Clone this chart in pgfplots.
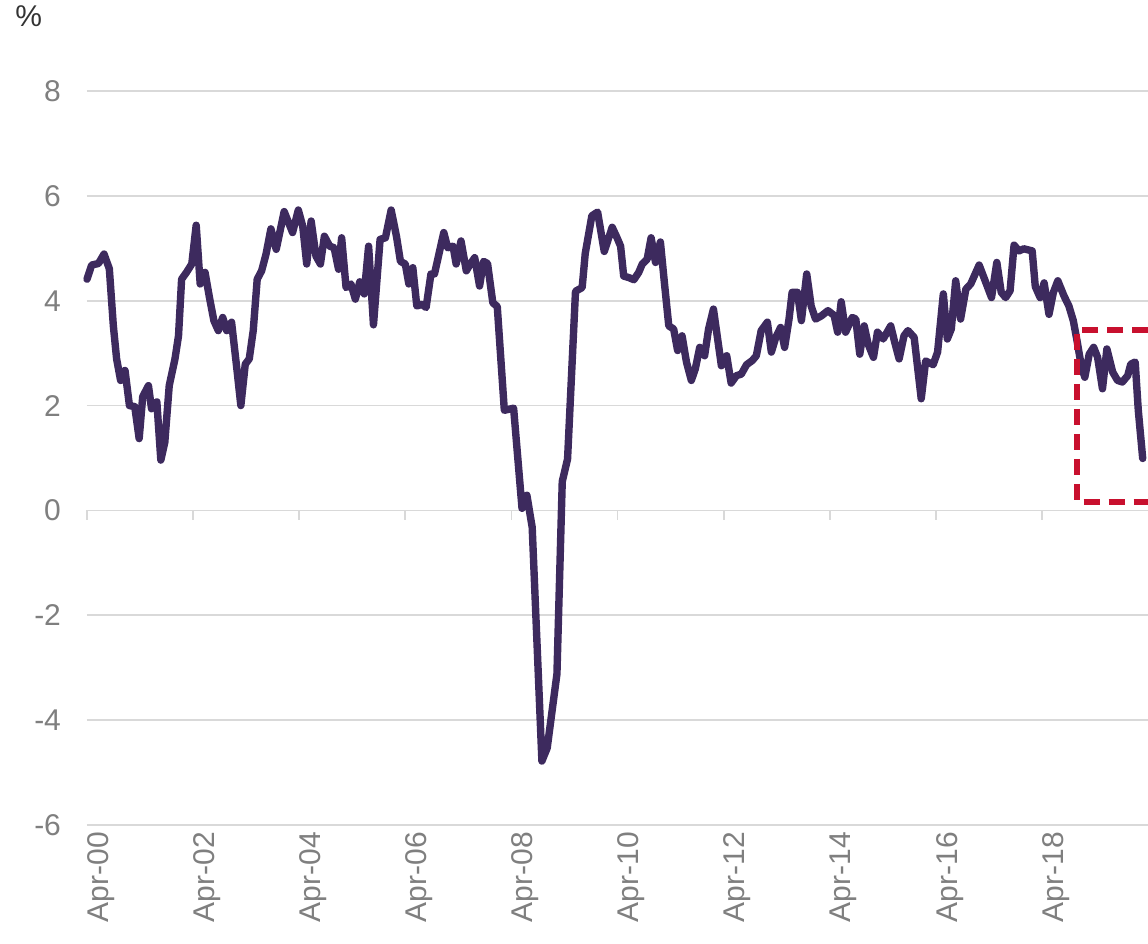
\documentclass[border=0pt]{standalone}
\usepackage{fontspec}
\setmainfont{Liberation Sans}
\usepackage{pgfplots}
\pgfplotsset{compat=1.18}
\definecolor{linec}{HTML}{3D2A5E}
\definecolor{redc}{HTML}{C8102E}
\definecolor{gridc}{HTML}{D9D9D9}
\definecolor{tickc}{HTML}{7F7F7F}
\begin{document}
\begin{tikzpicture}
\begin{axis}[
  scale only axis,
  width=530.5pt, height=367pt,
  xmin=0, xmax=240, ymin=-6, ymax=8,
  xtick={0,24,...,216},
  xticklabels={Apr-00,Apr-02,Apr-04,Apr-06,Apr-08,Apr-10,Apr-12,Apr-14,Apr-16,Apr-18},
  ytick={-6,-4,...,8},
  axis line style={draw=none},
  major tick length=0pt,
  ymajorgrids,
  grid style={gridc, line width=0.9pt},
  tick label style={font=\fontsize{15}{18}\selectfont, text=tickc},
  xticklabel style={rotate=90, anchor=east, yshift=-7pt},
  yticklabel style={xshift=-9.5pt},
  /pgf/number format/assume math mode=true,
  clip=false,
]
\pgfplotsinvokeforeach{0,24,...,216}{
  \draw[gridc, line width=0.9pt] (axis cs:#1,0) -- ([yshift=-5pt]axis cs:#1,0);
}
\addplot[linec, line width=3.7pt, line join=round, line cap=round] coordinates {
(0,4.41)(1.05,4.68)(2.6,4.71)(3.85,4.89)(5.05,4.61)(5.96,3.52)(6.7,2.89)(7.6,2.48)(8.6,2.67)(9.6,2.0)
(10.8,1.98)(11.8,1.37)(12.6,2.17)(13.9,2.38)(14.6,1.94)(15.8,2.07)(16.7,0.96)(17.6,1.3)(18.6,2.38)(19.9,2.89)
(20.7,3.33)(21.4,4.41)(22.5,4.54)(23.7,4.70)(24.7,5.44)(25.6,4.32)(26.7,4.54)(27.7,4.06)(28.7,3.62)(29.7,3.43)
(30.7,3.68)(31.6,3.43)(32.7,3.59)(33.9,2.70)(34.8,2.0)(35.8,2.79)(36.7,2.89)(37.6,3.43)(38.5,4.41)(39.5,4.57)
(40.5,4.89)(41.6,5.37)(42.8,4.98)(44.6,5.70)(46.5,5.30)(47.8,5.73)(48.8,5.42)(49.7,4.70)(50.7,5.52)(51.8,4.85)
(52.8,4.70)(53.7,5.23)(54.9,5.04)(55.9,5.01)(56.9,4.60)(57.6,5.20)(58.6,4.25)(59.7,4.32)(60.7,4.03)(61.7,4.36)
(62.7,4.13)(63.7,5.04)(64.8,3.54)(66.3,5.17)(67.5,5.2)(68.8,5.73)(70.0,5.23)(70.9,4.75)(72.0,4.70)(72.8,4.32)
(73.7,4.63)(74.6,3.90)(75.8,3.93)(76.7,3.87)(77.8,4.51)(78.6,4.51)(79.5,4.85)(80.7,5.30)(81.6,5.01)(82.8,5.04)
(83.5,4.70)(84.6,5.14)(85.8,4.57)(86.7,4.70)(87.7,4.82)(88.8,4.28)(89.7,4.75)(90.6,4.71)(91.8,3.96)(92.8,3.89)
(94.4,1.91)(96.5,1.95)(98.4,0.04)(99.5,0.29)(100.7,-0.32)(102.9,-4.78)(104.1,-4.53)(106.3,-3.12)(107.5,0.55)(108.7,0.98)
(110.5,4.18)(112,4.25)(112.7,4.9)(114.2,5.62)(115.5,5.69)(117,4.94)(118.8,5.4)(119.9,5.2)(120.7,5.04)(121.4,4.47)
(122.6,4.44)(123.7,4.40)(124.8,4.54)(125.6,4.70)(126.7,4.79)(127.6,5.20)(128.6,4.73)(129.7,5.12)(130.6,4.35)(131.6,3.52)
(132.7,3.46)(133.6,3.05)(134.6,3.33)(135.6,2.83)(136.7,2.48)(137.6,2.70)(138.6,3.11)(139.7,2.95)(140.6,3.46)(141.7,3.84)
(142.7,3.24)(143.5,2.76)(144.7,2.95)(145.7,2.43)(146.9,2.57)(148,2.60)(149.2,2.78)(150.5,2.86)(151.4,2.95)(152.5,3.43)
(153.9,3.59)(154.8,3.02)(155.8,3.30)(156.9,3.49)(157.8,3.11)(158.8,3.65)(159.5,4.16)(160.7,4.16)(161.6,3.62)(162.8,4.51)
(163.8,3.90)(164.8,3.65)(166.1,3.71)(167.6,3.81)(169,3.72)(169.8,3.40)(170.6,3.98)(171.6,3.40)(173.1,3.68)(173.9,3.65)
(174.8,2.98)(175.8,3.52)(176.7,3.17)(177.9,2.92)(178.8,3.40)(180.1,3.27)(181.8,3.52)(182.7,3.21)(183.7,2.89)(184.8,3.33)
(185.7,3.43)(187.1,3.30)(188.7,2.13)(189.7,2.85)(191.4,2.78)(192.4,3.02)(193.7,4.13)(194.6,3.27)(195.5,3.46)(196.5,4.38)
(197.6,3.65)(198.8,4.22)(199.9,4.32)(201.8,4.68)(203.3,4.35)(204.6,4.06)(205.8,4.73)(206.8,4.16)(207.8,4.06)(208.8,4.19)
(209.7,5.06)(210.8,4.95)(211.9,4.99)(213.8,4.95)(214.5,4.27)(215.6,4.06)(216.5,4.34)(217.6,3.74)(218.6,4.16)(219.6,4.38)
(221,4.09)(222.1,3.90)(223.1,3.62)(224,3.21)(224.9,2.76)(225.7,2.54)(226.7,2.98)(227.7,3.11)(228.6,2.92)(229.7,2.32)
(230.7,3.08)(232,2.64)(233.1,2.48)(234.2,2.45)(235.4,2.57)(236.1,2.79)(237.1,2.83)(237.8,1.91)(238.8,0.99)
};
\draw[redc, line width=3pt, dash pattern=on 8pt off 4.5pt]
  (axis cs:240,3.44) -- (axis cs:223.9,3.44) -- (axis cs:223.9,0.16) -- (axis cs:240,0.16);
\node[anchor=base west, font=\fontsize{15}{18}\selectfont, text=black!80, inner sep=0pt]
  at ([shift={(-36pt,32pt)}]rel axis cs:0,1) {\%};
\end{axis}
\pgfresetboundingbox
\path ([shift={(-43.5pt,-59pt)}]current axis.south west) rectangle ([shift={(0pt,45.5pt)}]current axis.north east);
\end{tikzpicture}
\end{document}
